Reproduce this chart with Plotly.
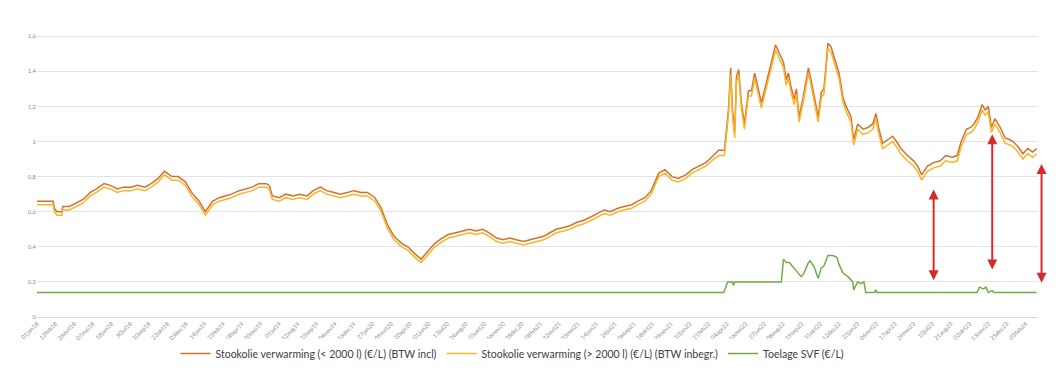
import plotly.graph_objects as go
import pandas as pd

# ---- data ----
dates_oil = [
    "2018-01-01", "2018-01-15", "2018-02-01", "2018-02-06", "2018-02-09", "2018-02-15", "2018-02-26", "2018-02-28",
    "2018-03-15", "2018-04-01", "2018-04-15", "2018-05-01", "2018-05-15", "2018-06-01", "2018-06-15", "2018-07-01",
    "2018-07-15", "2018-08-01", "2018-08-15", "2018-09-01", "2018-09-15", "2018-10-01", "2018-10-15", "2018-11-01",
    "2018-11-15", "2018-12-01", "2018-12-15",
    "2019-01-01", "2019-01-15", "2019-02-01", "2019-02-15", "2019-03-01", "2019-03-15", "2019-04-01", "2019-04-15",
    "2019-05-01", "2019-05-15", "2019-06-01", "2019-06-08", "2019-06-15", "2019-07-01", "2019-07-15", "2019-08-01",
    "2019-08-15", "2019-09-01", "2019-09-15", "2019-10-01", "2019-10-15", "2019-11-01", "2019-11-15", "2019-12-01",
    "2019-12-15",
    "2020-01-01", "2020-01-15", "2020-02-01", "2020-02-15", "2020-03-01", "2020-03-15", "2020-04-01", "2020-04-15",
    "2020-05-01", "2020-05-15", "2020-06-01", "2020-06-15", "2020-07-01", "2020-07-15", "2020-08-01", "2020-08-15",
    "2020-09-01", "2020-09-15", "2020-10-01", "2020-10-15", "2020-11-01", "2020-11-15", "2020-12-01", "2020-12-15",
    "2021-01-01", "2021-01-15", "2021-02-01", "2021-02-15", "2021-03-01", "2021-03-15", "2021-04-01", "2021-04-15",
    "2021-05-01", "2021-05-15", "2021-06-01", "2021-06-15", "2021-07-01", "2021-07-15", "2021-08-01", "2021-08-15",
    "2021-09-01", "2021-09-15", "2021-10-01", "2021-10-15", "2021-11-01", "2021-11-15", "2021-12-01", "2021-12-15",
    "2022-01-01", "2022-01-15", "2022-02-01", "2022-02-15", "2022-02-28", "2022-03-16", "2022-03-29", "2022-04-03",
    "2022-04-07", "2022-04-12", "2022-04-16", "2022-04-21", "2022-04-25", "2022-04-30", "2022-05-06", "2022-05-13",
    "2022-05-22", "2022-05-29", "2022-06-05", "2022-06-14", "2022-06-20", "2022-06-27", "2022-07-08", "2022-07-17",
    "2022-07-22", "2022-07-31", "2022-08-09", "2022-08-15", "2022-08-20", "2022-08-26", "2022-09-02", "2022-09-07",
    "2022-09-13", "2022-09-22", "2022-10-04", "2022-10-10", "2022-10-17", "2022-10-26", "2022-11-02", "2022-11-08",
    "2022-11-17", "2022-11-24", "2022-12-01", "2022-12-12", "2022-12-21", "2022-12-28",
    "2023-01-08", "2023-01-14", "2023-01-23", "2023-02-04", "2023-02-15", "2023-02-26", "2023-03-05", "2023-03-11",
    "2023-03-20", "2023-04-01", "2023-04-12", "2023-04-23", "2023-04-30", "2023-05-15", "2023-05-29", "2023-06-07",
    "2023-06-16", "2023-06-29", "2023-07-13", "2023-07-28", "2023-08-09", "2023-08-24", "2023-09-04", "2023-09-13",
    "2023-09-25", "2023-10-04", "2023-10-12", "2023-10-21", "2023-10-30", "2023-11-06", "2023-11-13", "2023-11-20",
    "2023-11-28", "2023-12-10", "2023-12-21",
    "2024-01-01", "2024-01-08", "2024-01-19", "2024-01-30", "2024-02-10", "2024-02-21", "2024-03-01",
]

stookolie_klein = [  # < 2000 l, BTW incl
    0.66, 0.66, 0.66, 0.66, 0.62, 0.60, 0.60, 0.63,
    0.63, 0.65, 0.67, 0.71, 0.73, 0.76, 0.75, 0.73,
    0.74, 0.74, 0.75, 0.74, 0.76, 0.79, 0.83, 0.80,
    0.80, 0.77, 0.71,
    0.66, 0.60, 0.66, 0.68, 0.69, 0.70, 0.72, 0.73,
    0.74, 0.76, 0.76, 0.75, 0.69, 0.68, 0.70, 0.69,
    0.70, 0.69, 0.72, 0.74, 0.72, 0.71, 0.70, 0.71,
    0.72,
    0.71, 0.71, 0.68, 0.62, 0.52, 0.46, 0.42, 0.40,
    0.36, 0.33, 0.38, 0.42, 0.45, 0.47, 0.48, 0.49,
    0.50, 0.49, 0.50, 0.48, 0.45, 0.44, 0.45, 0.44,
    0.43, 0.44, 0.45, 0.46, 0.48, 0.50, 0.51, 0.52,
    0.54, 0.55, 0.57, 0.59, 0.61, 0.60, 0.62, 0.63,
    0.64, 0.66, 0.68, 0.72, 0.82, 0.84, 0.80, 0.79,
    0.81, 0.84, 0.86, 0.88, 0.91, 0.95, 0.95, 1.08,
    1.18, 1.42, 1.18, 1.05, 1.37, 1.41, 1.22, 1.10,
    1.29, 1.29, 1.39, 1.29, 1.22, 1.29, 1.41, 1.50,
    1.55, 1.50, 1.45, 1.35, 1.39, 1.31, 1.24, 1.30,
    1.14, 1.25, 1.42, 1.35, 1.25, 1.14, 1.28, 1.30,
    1.56, 1.54, 1.48, 1.39, 1.25, 1.20,
    1.14, 1.01, 1.10, 1.07, 1.08, 1.10, 1.16, 1.08,
    0.99, 1.01, 1.03, 0.99, 0.96, 0.92, 0.89, 0.86,
    0.81, 0.86, 0.88, 0.89, 0.92, 0.91, 0.92, 1.00,
    1.07, 1.08, 1.10, 1.14, 1.21, 1.18, 1.20, 1.08,
    1.13, 1.08, 1.02,
    1.01, 1.00, 0.97, 0.93, 0.96, 0.94, 0.96,
]

stookolie_groot = [  # > 2000 l, BTW inbegr.
    0.64, 0.64, 0.64, 0.64, 0.60, 0.58, 0.58, 0.61,
    0.61, 0.63, 0.65, 0.69, 0.71, 0.74, 0.73, 0.71,
    0.72, 0.72, 0.73, 0.72, 0.74, 0.77, 0.81, 0.78,
    0.78, 0.75, 0.69,
    0.64, 0.58, 0.64, 0.66, 0.67, 0.68, 0.70, 0.71,
    0.72, 0.74, 0.74, 0.73, 0.67, 0.66, 0.68, 0.67,
    0.68, 0.67, 0.70, 0.72, 0.70, 0.69, 0.68, 0.69,
    0.70,
    0.69, 0.69, 0.66, 0.60, 0.50, 0.44, 0.40, 0.38,
    0.34, 0.31, 0.36, 0.40, 0.43, 0.45, 0.46, 0.47,
    0.48, 0.47, 0.48, 0.46, 0.43, 0.42, 0.43, 0.42,
    0.41, 0.42, 0.43, 0.44, 0.46, 0.48, 0.49, 0.50,
    0.52, 0.53, 0.55, 0.57, 0.59, 0.58, 0.60, 0.61,
    0.62, 0.64, 0.66, 0.70, 0.80, 0.82, 0.78, 0.77,
    0.79, 0.82, 0.84, 0.86, 0.89, 0.92, 0.92, 1.05,
    1.15, 1.38, 1.15, 1.02, 1.34, 1.38, 1.19, 1.07,
    1.26, 1.26, 1.36, 1.26, 1.19, 1.26, 1.38, 1.47,
    1.52, 1.47, 1.42, 1.32, 1.36, 1.28, 1.21, 1.27,
    1.11, 1.22, 1.39, 1.32, 1.22, 1.11, 1.25, 1.27,
    1.53, 1.51, 1.45, 1.36, 1.22, 1.17,
    1.11, 0.98, 1.07, 1.04, 1.05, 1.07, 1.13, 1.05,
    0.96, 0.98, 1.00, 0.96, 0.93, 0.89, 0.86, 0.83,
    0.78, 0.83, 0.85, 0.86, 0.89, 0.88, 0.89, 0.97,
    1.04, 1.05, 1.07, 1.11, 1.18, 1.15, 1.17, 1.05,
    1.10, 1.05, 0.99,
    0.98, 0.97, 0.94, 0.90, 0.93, 0.91, 0.93,
]

dates_svf = [
    "2018-01-01", "2022-03-27", "2022-04-01", "2022-04-05", "2022-04-16", "2022-04-18", "2022-04-21", "2022-08-04",
    "2022-08-09", "2022-08-15", "2022-08-22", "2022-09-02", "2022-09-11", "2022-09-18", "2022-09-24", "2022-10-04",
    "2022-10-08", "2022-10-17", "2022-10-26", "2022-11-02", "2022-11-08", "2022-11-17", "2022-11-28", "2022-12-07",
    "2022-12-12", "2022-12-21", "2023-01-01", "2023-01-12", "2023-01-14", "2023-01-23", "2023-01-30", "2023-02-06",
    "2023-02-10", "2023-03-02", "2023-03-05", "2023-03-07", "2023-10-19", "2023-10-24", "2023-11-02", "2023-11-08",
    "2023-11-13", "2023-11-22", "2023-11-26", "2024-03-01",
]
toelage_svf = [
    0.14, 0.14, 0.17, 0.20, 0.20, 0.18, 0.20, 0.20,
    0.33, 0.31, 0.31, 0.28, 0.25, 0.23, 0.25, 0.31,
    0.32, 0.285, 0.22, 0.28, 0.29, 0.35, 0.35, 0.34,
    0.30, 0.25, 0.23, 0.20, 0.155, 0.20, 0.19, 0.20,
    0.14, 0.14, 0.155, 0.14, 0.14, 0.17, 0.16, 0.17,
    0.14, 0.15, 0.14, 0.14,
]

# double-headed red arrows
arrow_dates = ["2023-07-13", "2023-11-22", "2024-03-12"]
arrow_top = [0.735, 1.05, 0.88]
arrow_bottom = [0.21, 0.27, 0.195]

x_start, x_end = "2018-01-01", "2024-03-04"
y_ticks = [0, 0.2, 0.4, 0.6, 0.8, 1.0, 1.2, 1.4, 1.6]

tick_dates = pd.date_range(x_start, periods=54, freq="42D")
maanden = ["jan", "feb", "mrt", "apr", "mei", "jun", "jul", "aug", "sep", "okt", "nov", "dec"]
tick_labels = [f"{d.day:02d}{maanden[d.month - 1]}{d.strftime('%y')}" for d in tick_dates]

names = [
    "Stookolie verwarming (< 2000 l) (€/L) (BTW incl)",
    "Stookolie verwarming (> 2000 l) (€/L) (BTW inbegr.)",
    "Toelage SVF (€/L)",
]
colors = ["#d4702c", "#f7b52a", "#70ad47"]

fig = go.Figure()
fig.add_trace(go.Scatter(x=dates_oil, y=stookolie_klein, mode="lines", name=names[0],
                         line=dict(color=colors[0], width=1.5)))
fig.add_trace(go.Scatter(x=dates_oil, y=stookolie_groot, mode="lines", name=names[1],
                         line=dict(color=colors[1], width=1.5)))
fig.add_trace(go.Scatter(x=dates_svf, y=toelage_svf, mode="lines", name=names[2],
                         line=dict(color=colors[2], width=1.5)))

t0 = pd.Timestamp(x_start)
t1 = pd.Timestamp(x_end)
for d, top, bot in zip(arrow_dates, arrow_top, arrow_bottom):
    frac = (pd.Timestamp(d) - t0) / (t1 - t0)
    fig.add_annotation(
        x=frac, xref="paper", y=bot, yref="y",
        ax=0, axref="pixel", ay=top, ayref="y",
        text="", showarrow=True,
        arrowhead=2, startarrowhead=2, arrowside="end+start",
        arrowsize=1, startarrowsize=1, arrowwidth=2, arrowcolor="#d42b2b",
    )

# the page body adds an 8px offset, so the figure is sized to fit inside the window
fig.update_layout(
    width=1055, height=379,
    margin=dict(l=24, r=25, t=17, b=70),
    paper_bgcolor="white", plot_bgcolor="white",
    separators=", ",
    font=dict(family="Lato, Open Sans, sans-serif", color="#595959"),
    showlegend=True,
    legend=dict(orientation="h", x=0.475, xanchor="center", y=-0.075, yanchor="top",
                font=dict(size=10.5, color="#404040"), itemwidth=30, tracegroupgap=0),
)
fig.update_xaxes(
    type="date", range=[x_start, x_end],
    tickmode="array", tickvals=list(tick_dates), ticktext=tick_labels,
    tickangle=-45, tickfont=dict(size=6, color="#8c8c8c"),
    showgrid=False, showline=True, linecolor="#d9d9d9", linewidth=1,
    ticks="", zeroline=False,
)
fig.update_yaxes(
    range=[0, 1.664], tickmode="array", tickvals=y_ticks,
    tickfont=dict(size=6, color="#8c8c8c"),
    showgrid=True, gridcolor="#e3e3e3", gridwidth=1,
    zeroline=False, showline=False, ticks="",
)

fig.write_html("out.html")
